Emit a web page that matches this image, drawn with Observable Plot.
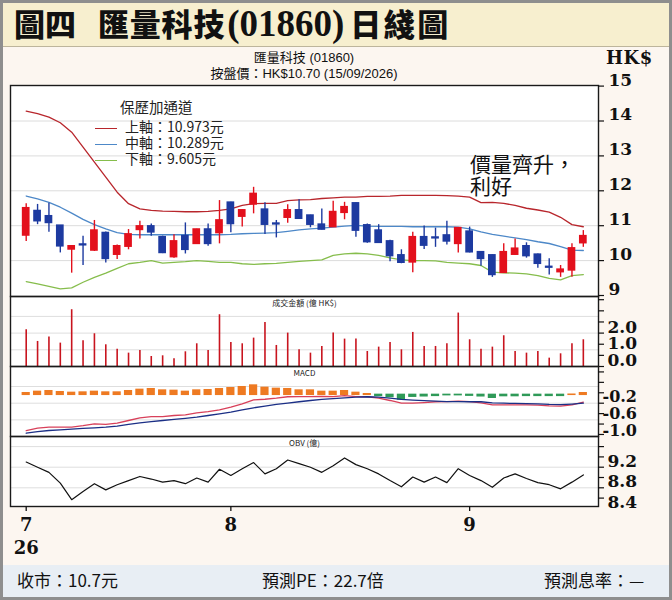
<!DOCTYPE html>
<html>
<head>
<meta charset="utf-8">
<script src="https://cdn.jsdelivr.net/npm/d3@7"></script>
<script src="https://cdn.jsdelivr.net/npm/@observablehq/plot@0.6"></script>
<style>
html,body{margin:0;padding:0;background:#fff;}
#wrap{position:relative;width:672px;height:600px;overflow:hidden;background:#fcf6f0;font-family:"Noto Sans CJK TC","Noto Sans",sans-serif;color:#111;}
#titlebar{position:absolute;left:0;top:0;width:672px;height:46px;background:#f7efcf;border-bottom:1px solid #bdb59c;}
#title{position:absolute;left:14px;top:0px;font-size:31px;line-height:46px;font-weight:900;font-family:"Noto Sans CJK TC",sans-serif;white-space:nowrap;}
#title .num{font-family:"Liberation Serif",serif;font-weight:bold;font-size:37px;}
#sub{position:absolute;left:10px;width:588px;top:50px;text-align:center;font-family:"Liberation Sans","Noto Sans CJK TC",sans-serif;font-size:13px;line-height:15.5px;}
#hk{position:absolute;left:606px;top:47px;font-family:"DejaVu Serif",serif;font-weight:bold;font-size:18px;letter-spacing:0.5px;}
#panelbg{position:absolute;left:10px;top:85px;width:588px;height:421px;background:#fff;}
#legend{position:absolute;left:95px;top:98px;font-size:14px;color:#222;}
#legend .t{position:absolute;left:25px;top:1px;white-space:nowrap;line-height:16px;font-size:14.5px;}
#legend .row{position:absolute;left:0;white-space:nowrap;line-height:14px;}
#legend .sw{display:inline-block;width:22px;height:0;border-top:1.6px solid;vertical-align:middle;margin-right:8px;}
#note{position:absolute;left:470px;top:152px;font-size:21px;line-height:22px;white-space:nowrap;}
#footer{position:absolute;left:0;top:565px;width:672px;height:32px;background:#e8eef4;font-size:17px;line-height:30px;}
#footer span{position:absolute;top:0;white-space:nowrap;}
#border{position:absolute;left:0;top:0;width:666px;height:594px;border:3px solid #8e8e8e;pointer-events:none;}
#charts{position:absolute;left:0;top:0;width:672px;height:600px;}
</style>
</head>
<body>
<div id="wrap">
  <div id="titlebar"></div>
  <div id="title"><span>圖四</span><span style="margin-left:22px;letter-spacing:0.8px">匯量科技</span><span class="num" style="margin-left:2px">(01860)</span><span style="margin-left:6px;letter-spacing:2.5px">日綫圖</span></div>
  <div id="sub"><div id="sub1"></div><div id="sub2"></div></div>
  <div id="hk">HK$</div>
  <div id="panelbg"></div>
  <div id="charts"></div>
  <div id="legend"></div>
  <div id="note"></div>
  <div id="footer"></div>
  <div id="border"></div>
</div>
<script>
// ---------------- data ----------------
const opens  = [10.72,11.42,11.27,11.00,10.32,10.46,10.29,10.79,10.17,10.40,10.88,10.98,10.67,10.10,10.70,10.48,10.89,10.79,11.66,11.26,11.61,11.46,11.06,11.23,11.44,11.29,11.03,10.96,11.37,11.64,11.01,10.86,10.55,10.15,9.95,10.67,10.66,10.72,10.48,10.83,10.24,10.15,9.65,10.17,10.41,10.17,9.82,9.67,9.72,10.50];
const highs  = [11.63,11.61,11.64,11.00,10.42,10.70,11.15,10.82,10.45,10.89,11.13,11.05,10.70,10.74,11.08,10.90,11.05,11.72,11.67,11.46,12.10,11.66,11.15,11.60,11.74,11.30,11.48,11.70,11.67,11.65,11.05,11.03,10.58,10.31,10.81,10.99,10.93,11.13,10.95,10.96,10.26,10.16,10.48,10.62,10.51,10.19,10.05,9.86,10.48,10.86];
const lows   = [10.55,11.03,10.81,10.22,9.64,9.86,10.26,9.93,10.03,10.31,10.62,10.70,10.20,10.07,10.19,10.47,10.41,10.48,10.80,10.96,11.34,10.75,10.65,11.07,11.19,10.94,10.88,10.95,11.17,10.67,10.50,10.50,9.97,9.91,9.65,10.32,10.38,10.45,10.22,10.22,9.84,9.52,9.64,10.15,10.07,9.78,9.59,9.52,9.52,10.38];
const closes = [11.50,11.13,11.08,10.41,10.41,10.44,10.86,10.05,10.41,10.75,10.98,10.81,10.22,10.55,10.31,10.89,10.48,11.15,11.05,11.44,11.91,11.03,11.04,11.44,11.20,11.03,10.89,11.39,11.53,10.86,10.53,10.51,10.13,9.94,10.67,10.43,10.64,10.55,10.93,10.24,10.05,9.59,10.24,10.34,10.13,9.91,9.80,9.74,10.35,10.70];
const upperBand = [14.28,14.21,14.11,13.95,13.68,13.25,12.82,12.39,11.96,11.63,11.48,11.44,11.42,11.41,11.40,11.40,11.41,11.44,11.48,11.58,11.63,11.64,11.64,11.72,11.74,11.75,11.78,11.80,11.82,11.82,11.84,11.84,11.85,11.87,11.87,11.87,11.87,11.86,11.85,11.82,11.66,11.67,11.64,11.58,11.50,11.45,11.39,11.24,11.03,10.97];
const midBand   = [11.85,11.77,11.67,11.53,11.36,11.18,11.03,10.91,10.80,10.75,10.74,10.74,10.74,10.74,10.74,10.74,10.74,10.74,10.75,10.77,10.78,10.79,10.80,10.84,10.88,10.91,10.93,10.96,10.99,11.01,10.99,10.98,10.98,10.98,10.97,10.97,10.97,10.97,10.96,10.91,10.82,10.75,10.70,10.65,10.60,10.54,10.49,10.40,10.30,10.29];
const lowerBand = [9.40,9.33,9.26,9.19,9.22,9.38,9.52,9.64,9.78,9.91,9.95,10.00,9.93,9.95,9.97,10.00,9.98,9.95,9.95,9.91,9.89,9.91,9.92,9.95,9.98,10.00,10.02,10.15,10.19,10.21,10.19,10.15,10.08,10.02,10.00,10.00,9.99,9.95,9.93,9.91,9.86,9.67,9.65,9.64,9.62,9.57,9.49,9.45,9.57,9.60];
const turnover  = [2.20,1.50,1.76,1.40,3.40,1.54,1.96,1.30,1.04,0.80,0.96,0.60,0.64,0.46,0.88,1.36,0.96,3.10,1.44,1.36,1.70,2.63,1.26,2.00,1.00,0.80,1.20,2.00,1.64,1.64,0.90,1.16,1.44,1.00,2.04,1.20,1.20,1.36,3.20,1.60,1.04,1.16,1.84,0.90,0.80,0.90,0.50,0.76,1.36,1.60];
const macdHist  = [0.04,0.072,0.088,0.064,0.048,0.056,0.072,0.056,0.056,0.088,0.12,0.136,0.104,0.096,0.072,0.104,0.112,0.136,0.16,0.184,0.224,0.168,0.144,0.136,0.104,0.104,0.072,0.072,0.088,0.048,0.016,-0.024,-0.05,-0.11,-0.045,-0.035,-0.025,-0.008,-0.008,-0.02,-0.035,-0.07,-0.03,-0.03,-0.025,-0.025,-0.025,-0.025,0.004,0.04];
const macdDif   = [-0.855,-0.80,-0.775,-0.775,-0.775,-0.74,-0.695,-0.71,-0.68,-0.615,-0.55,-0.52,-0.52,-0.495,-0.48,-0.43,-0.40,-0.36,-0.295,-0.215,-0.12,-0.105,-0.08,-0.045,-0.04,-0.04,-0.035,-0.04,-0.02,-0.04,-0.045,-0.08,-0.135,-0.20,-0.20,-0.185,-0.165,-0.16,-0.15,-0.16,-0.19,-0.24,-0.24,-0.24,-0.24,-0.245,-0.265,-0.27,-0.24,-0.175];
const macdDea   = [-0.92,-0.88,-0.855,-0.84,-0.82,-0.805,-0.79,-0.775,-0.75,-0.71,-0.67,-0.64,-0.615,-0.59,-0.565,-0.535,-0.495,-0.455,-0.415,-0.36,-0.31,-0.27,-0.23,-0.20,-0.165,-0.135,-0.11,-0.09,-0.07,-0.055,-0.045,-0.055,-0.08,-0.11,-0.125,-0.14,-0.15,-0.16,-0.16,-0.165,-0.165,-0.19,-0.20,-0.205,-0.21,-0.215,-0.23,-0.235,-0.22,-0.20];
const obv       = [9.30,9.20,9.10,8.89,8.57,8.73,8.88,8.76,8.86,8.94,9.02,8.97,8.91,8.94,8.88,8.99,8.91,9.16,9.04,9.17,9.29,9.07,9.17,9.34,9.27,9.20,9.10,9.23,9.38,9.25,9.17,9.07,8.94,8.82,9.01,8.91,9.01,8.90,9.17,9.04,8.94,8.81,8.99,9.07,8.98,8.90,8.86,8.78,8.91,9.05];

const monthTickIndex = [0, 18, 39];
const monthTickLabels = ["7", "8", "9"];
const yearLabel = "26";
const priceTicks = [9, 10, 11, 12, 13, 14, 15];
const priceGrid = [10, 11, 12, 13, 14];
const volLabels = [0, 1, 2];
const volGrid = [1, 2, 3];
const macdLabels = [-0.2, -0.6, -1.0];
const macdGrid = [0.2, -0.2, -0.6];
const obvLabels = [9.2, 8.8, 8.4];
const obvGrid = [9.6, 9.2, 8.8];

const stockName = "匯量科技 (01860)";
const quoteLine = "按盤價：HK$10.70 (15/09/2026)";
const legendTitle = "保歷加通道";
const bandNames = ["上軸", "中軸", "下軸"];
const bandLast = ["10.973", "10.289", "9.605"];
const noteLines = ["價量齊升，", "利好"];
const panelTitles = ["成交金額 (億 HK$)", "MACD", "OBV (億)"];
const footerItems = ["收市：10.7元", "預測PE：22.7倍", "預測息率：—"];

// ---------------- styling ----------------
const RED = "#e3101c", BLUE = "#1d3aa0";
const BAND_COLORS = ["#b8262c", "#4d88c8", "#86bd4c"];
const NUMFONT = "DejaVu Serif, serif";
const CJK = "Noto Sans CJK TC, sans-serif";

const W = 672, ML = 10, MR = 74;
const X0 = 25.7, DX = 11.37; // pixel of first candle, pixels per candle
const xDomain = [(ML - X0) / DX, (W - MR - X0) / DX];
const xRight = xDomain[1];
const xMid = (xDomain[0] + xDomain[1]) / 2;

function yDom(refVal, refPx, unitPx, top, bottom) {
  return [refVal - (bottom - refPx) / unitPx, refVal + (refPx - top) / unitPx];
}

const idx = d3.range(opens.length);
const candles = idx.map(i => ({i, o: opens[i], h: highs[i], l: lows[i], c: closes[i], up: closes[i] >= opens[i]}));
const bands = [upperBand, midBand, lowerBand].map(arr => idx.map(i => ({i, v: arr[i]})));
const vol = idx.map(i => ({i, v: turnover[i]}));
const macd = idx.map(i => ({i, h: macdHist[i], dif: macdDif[i], dea: macdDea[i]}));
const obvData = idx.map(i => ({i, v: obv[i]}));

function panel({top, bottom, mTop, mBottom, yDomain, marks}) {
  return Plot.plot({
    width: W, height: mTop + (bottom - top) + mBottom,
    marginLeft: ML, marginRight: MR, marginTop: mTop, marginBottom: mBottom,
    x: {domain: xDomain, axis: null},
    y: {domain: yDomain, axis: null},
    style: {position: "absolute", left: "0px", top: (top - mTop) + "px", background: "transparent", overflow: "visible"},
    marks
  });
}

function rightTicks(values, unitTicks, fontSize, dxText, dyText, fmt) {
  return [
    Plot.ruleY(unitTicks, {y: d => d, x1: () => xRight, x2: () => xRight + 6 / DX, stroke: "#111", strokeWidth: 1.2}),
    Plot.text(values, {y: d => d, x: () => xRight, text: fmt, dx: dxText, dy: dyText, textAnchor: "start",
      fontSize, fontWeight: "bold", fontFamily: NUMFONT, fill: "#111"})
  ];
}

const charts = document.getElementById("charts");

// price panel
const pTop = 85, pBot = 296;
const pDom = yDom(9, 295, 34.9, pTop, pBot);
charts.append(panel({
  top: pTop, bottom: pBot, mTop: 25, mBottom: 1, yDomain: pDom,
  marks: [
    Plot.ruleY(priceGrid, {y: d => d, stroke: "#dcdcdc", strokeWidth: 1}),
    ...bands.map((b, k) => Plot.line(b, {x: "i", y: "v", stroke: BAND_COLORS[k], strokeWidth: 1.3})),
    Plot.ruleX(candles, {x: "i", y1: "l", y2: "h", stroke: d => d.up ? RED : BLUE, strokeWidth: 1.4}),
    Plot.rect(candles, {x1: d => d.i - 0.34, x2: d => d.i + 0.34, y1: "o", y2: "c",
      fill: d => d.up ? RED : BLUE, insetTop: -0.8, insetBottom: -0.8}),
    Plot.frame({stroke: "#1a1a1a", strokeWidth: 1.4}),
    ...rightTicks(priceTicks, priceTicks, 17, 10, -6, d => String(d))
  ]
}));

// turnover panel
const vTop = 296, vBot = 366;
const vDom = yDom(0, 366, 16.7, vTop, vBot);
charts.append(panel({
  top: vTop, bottom: vBot, mTop: 2, mBottom: 1, yDomain: vDom,
  marks: [
    Plot.ruleY(volGrid, {y: d => d, stroke: "#dedede", strokeWidth: 1}),
    Plot.ruleX(vol, {x: "i", y1: () => 0, y2: "v", stroke: "#c8141e", strokeWidth: 1.6}),
    Plot.text([panelTitles[0]], {x: () => xMid, y: () => vDom[1], text: d => d, dy: 7, fontSize: 8, fontFamily: CJK, fill: "#222"}),
    Plot.frame({stroke: "#1a1a1a", strokeWidth: 1.4}),
    ...rightTicks(volLabels, d3.range(0, 4.1, 2 / 3), 17, 9, -6, d => d.toFixed(1))
  ]
}));

// MACD panel
const mTop_ = 366, mBot = 436;
const mDom = yDom(-0.2, 402.7, 41.7, mTop_, mBot);
charts.append(panel({
  top: mTop_, bottom: mBot, mTop: 2, mBottom: 1, yDomain: mDom,
  marks: [
    Plot.ruleY(macdGrid, {y: d => d, stroke: "#dedede", strokeWidth: 1}),
    Plot.rect(macd, {x1: d => d.i - 0.36, x2: d => d.i + 0.36, y1: () => 0, y2: "h",
      fill: d => d.h >= 0 ? "#ee7a22" : "#2f9a58", insetTop: -0.7, insetBottom: -0.7}),
    Plot.line(macd, {x: "i", y: "dif", stroke: "#d8405a", strokeWidth: 1.3}),
    Plot.line(macd, {x: "i", y: "dea", stroke: "#1b2f86", strokeWidth: 1.3}),
    Plot.text([panelTitles[1]], {x: () => xMid, y: () => mDom[1], text: d => d, dy: 7, fontSize: 8, fontFamily: CJK, fill: "#222"}),
    Plot.frame({stroke: "#1a1a1a", strokeWidth: 1.4}),
    ...rightTicks(macdLabels, d3.range(-0.95, 0.6, 0.25), 16, 4, -6, d => d.toFixed(1))
  ]
}));

// OBV panel + x axis
const oTop = 436, oBot = 506;
const oDom = yDom(9.2, 466.7, 51.5, oTop, oBot);
charts.append(panel({
  top: oTop, bottom: oBot, mTop: 2, mBottom: 58, yDomain: oDom,
  marks: [
    Plot.ruleY(obvGrid, {y: d => d, stroke: "#dedede", strokeWidth: 1}),
    Plot.line(obvData, {x: "i", y: "v", stroke: "#111", strokeWidth: 1.2}),
    Plot.text([panelTitles[2]], {x: () => xMid, y: () => oDom[1], text: d => d, dy: 7, fontSize: 8, fontFamily: CJK, fill: "#222"}),
    Plot.frame({stroke: "#1a1a1a", strokeWidth: 1.4}),
    ...rightTicks(obvLabels, d3.range(8.6, 9.7, 0.2), 17, 9, -6, d => d.toFixed(1)),
    Plot.ruleX(monthTickIndex, {x: d => d, y1: () => oDom[0], y2: () => oDom[0] - 5 / 51.5, stroke: "#111", strokeWidth: 1.3}),
    Plot.text(monthTickIndex, {x: d => d, y: () => oDom[0], text: (d, k) => monthTickLabels[k], dy: 19,
      fontSize: 18, fontWeight: "bold", fontFamily: NUMFONT, fill: "#111"}),
    Plot.text([yearLabel], {x: () => monthTickIndex[0], y: () => oDom[0], text: d => d, dy: 42,
      fontSize: 18, fontWeight: "bold", fontFamily: NUMFONT, fill: "#111"})
  ]
}));

// texts
document.getElementById("sub1").textContent = stockName;
document.getElementById("sub2").textContent = quoteLine;
const legend = document.getElementById("legend");
legend.innerHTML = `<div class="t">${legendTitle}</div>` + bandNames.map((n, k) =>
  `<div class="row" style="top:${21 + k * 16}px"><span class="sw" style="border-color:${BAND_COLORS[k]}"></span>${n}：${bandLast[k]}元</div>`).join("");
document.getElementById("note").innerHTML = noteLines.join("<br>");
const footerX = [17, 262, 544];
document.getElementById("footer").innerHTML = footerItems.map((t, k) => `<span style="left:${footerX[k]}px">${t}</span>`).join("");
</script>
</body>
</html>
